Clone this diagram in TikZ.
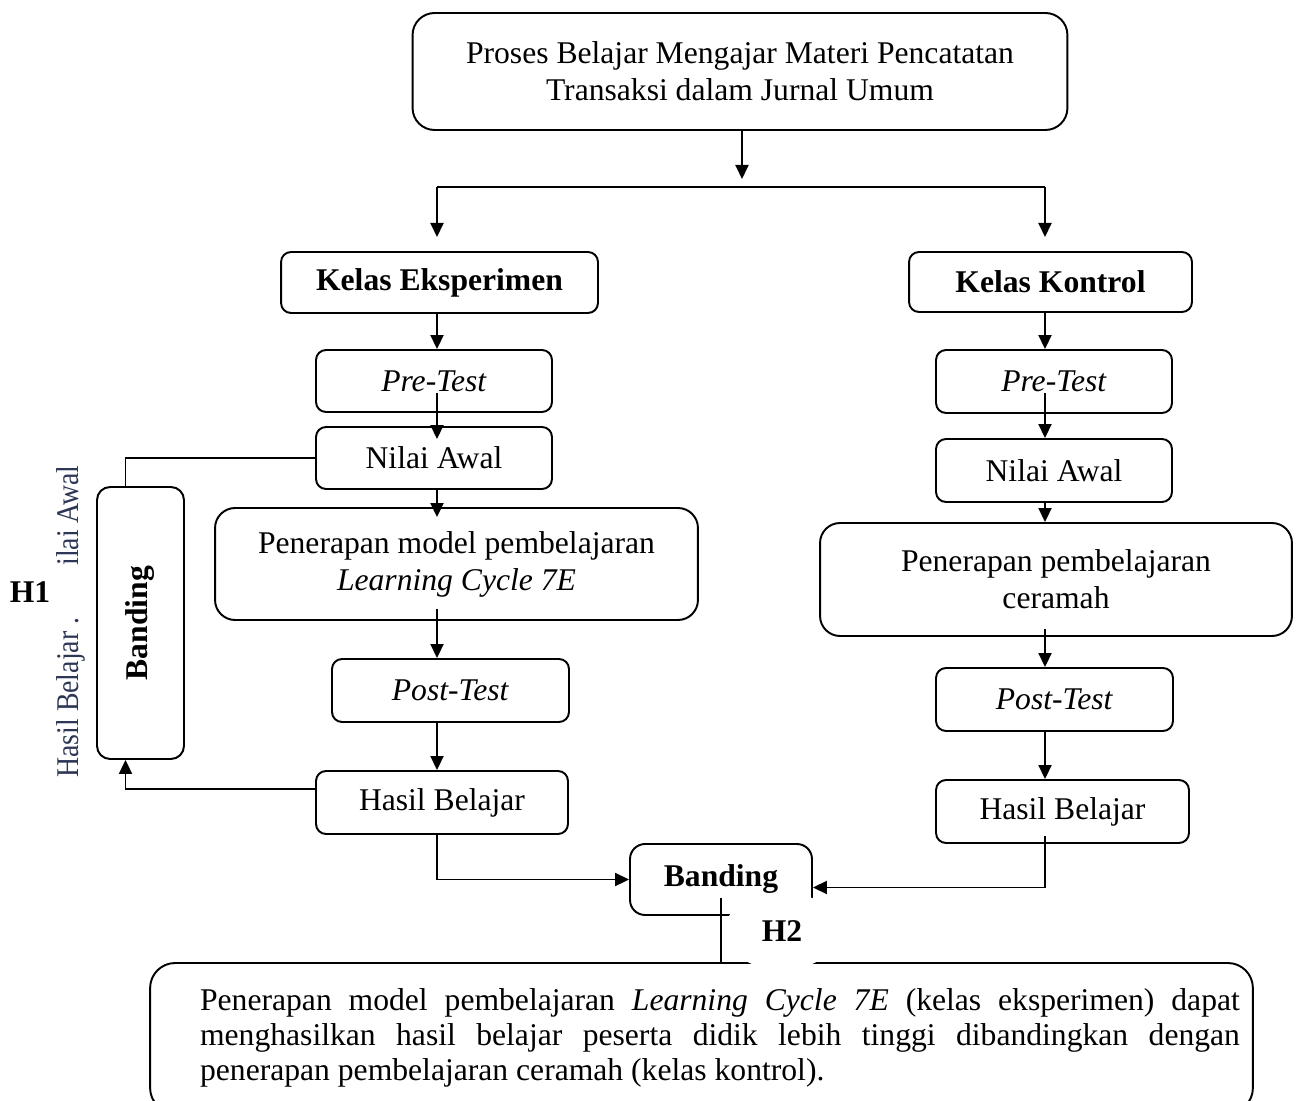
\documentclass[tikz,border=0pt]{standalone}
\usepackage{fontspec}
\setmainfont{Liberation Serif}
\usetikzlibrary{arrows.meta,shapes.geometric}
\definecolor{fadedtext}{RGB}{45,55,85}
\tikzset{
  box/.style={draw, line width=1.1pt, rounded corners=0.2cm, align=center, inner sep=2pt},
  arr/.style={-{Triangle[length=0.28cm,width=0.26cm]}, line width=1.1pt},
  line/.style={line width=1.1pt}
}
\begin{document}
\begin{tikzpicture}[x=0.02cm, y=-0.02cm, font=\fontsize{18}{21}\selectfont]
        \useasboundingbox (0,0) rectangle (1299,1101);
        % top and the two classes
        \node[box, rounded corners=0.44cm, minimum width=13.1cm, minimum height=2.34cm] (top) at (740,71.5) {Proses Belajar Mengajar Materi Pencatatan\\Transaksi dalam Jurnal Umum};
        \node[box, minimum width=6.34cm, minimum height=1.22cm, font=\fontsize{18}{21}\selectfont\bfseries] (eksp) at (439.5,282.5) {Kelas Eksperimen};
        \node[box, minimum width=5.66cm, minimum height=1.2cm, font=\fontsize{18}{21}\selectfont\bfseries] (kont) at (1050.5,282) {Kelas Kontrol};

        % experiment column
        \node[box, minimum width=4.72cm, minimum height=1.24cm] (preL) at (434,381) {\textit{Pre-Test}};
        \node[box, minimum width=4.72cm, minimum height=1.24cm] (nilaiL) at (434,458) {Nilai Awal};
        \node[box, rounded corners=0.4cm, minimum width=9.66cm, minimum height=2.24cm] (terapL) at (456.5,564) {Penerapan model pembelajaran\\\textit{Learning Cycle 7E}};
        \node[box, minimum width=4.74cm, minimum height=1.26cm] (postL) at (450.5,690.5) {\textit{Post-Test}};
        \node[box, minimum width=5.04cm, minimum height=1.26cm] (hasilL) at (442,802.5) {Hasil Belajar};

        % control column
        \node[box, minimum width=4.72cm, minimum height=1.26cm] (preR) at (1054,381.5) {\textit{Pre-Test}};
        \node[box, minimum width=4.72cm, minimum height=1.26cm] (nilaiR) at (1054,470.5) {Nilai Awal};
        \node[box, rounded corners=0.4cm, minimum width=9.44cm, minimum height=2.26cm] (terapR) at (1056,579.5) {Penerapan pembelajaran\\ceramah};
        \node[box, minimum width=4.74cm, minimum height=1.26cm] (postR) at (1054.5,699.5) {\textit{Post-Test}};
        \node[box, minimum width=5.06cm, minimum height=1.26cm] (hasilR) at (1062.5,811.5) {Hasil Belajar};

        % comparisons
        \node[box, rounded corners=0.3cm, minimum width=3.64cm, minimum height=1.42cm, font=\fontsize{18}{21}\selectfont\bfseries] (banding) at (721,879.5) {Banding};
        \node[box, rounded corners=0.26cm, minimum width=1.74cm, minimum height=5.44cm, font=\fontsize{18}{21}\selectfont\bfseries] (bandL) at (140.5,623) {\rotatebox{90}{Banding}};
        \node[font=\fontsize{18}{21}\selectfont\bfseries] (hone) at (30,592) {H1};
        \node[rotate=90, anchor=base west, inner sep=0pt, text=fadedtext] (hasiltxt) at (78,778) {\scalebox{0.88}[1]{Hasil Belajar .}};
        \node[rotate=90, anchor=base east, inner sep=0pt, text=fadedtext] (nilaitxt) at (78,465) {\scalebox{0.88}[1]{ilai Awal}};
        \node[box, rounded corners=0.5cm, minimum width=22.06cm, minimum height=3cm, inner sep=0pt] (kesim) at (701.5,1038) {\hspace*{0.74cm}\parbox{20.8cm}{\fontsize{18}{20}\selectfont\hyphenpenalty=10000
          Penerapan model pembelajaran \textit{Learning Cycle 7E} (kelas eksperimen) dapat\linebreak
          menghasilkan hasil belajar peserta didik lebih tinggi dibandingkan dengan\linebreak
          penerapan pembelajaran ceramah (kelas kontrol).}};

        \coordinate (colL) at (437,0);
        \coordinate (colR) at (1045,0);
        \coordinate (fork) at (742,187);
        \coordinate (forktip) at (742,179);
        \coordinate (tipL) at (437,237);
        \coordinate (tipR) at (1045,237);

        \draw[arr] (top.south -| forktip) -- (forktip);
        \draw[line] (fork -| tipL) -- (fork -| tipR);
        \draw[arr] (fork -| tipL) -- (tipL);
        \draw[arr] (fork -| tipR) -- (tipR);

        \draw[arr] (eksp.south -| colL) -- (preL.north -| colL);
        \draw[arr] ([yshift=-0.24cm]preL.center -| colL) -- ([yshift=-0.26cm]nilaiL.north -| colL);
        \draw[arr] (nilaiL.south -| colL) -- ([yshift=-0.2cm]terapL.north -| colL);
        \draw[arr] ([yshift=0.24cm]terapL.south -| colL) -- (postL.north -| colL);
        \draw[arr] (postL.south -| colL) -- (hasilL.north -| colL);
        \draw[arr] (hasilL.south -| colL) |- (banding.west);

        \draw[arr] (kont.south -| colR) -- (preR.north -| colR);
        \draw[arr] ([yshift=-0.24cm]preR.center -| colR) -- (nilaiR.north -| colR);
        \draw[arr] (nilaiR.south -| colR) -- (terapR.north -| colR);
        \draw[arr] ([yshift=0.16cm]terapR.south -| colR) -- (postR.north -| colR);
        \draw[arr] (postR.south -| colR) -- (hasilR.north -| colR);
        \draw[arr] ([yshift=0.16cm]hasilR.south -| colR) |- ([yshift=-0.16cm]banding.east);

        \draw[line] (nilaiL.west) -| ([xshift=-0.3cm]bandL.north);
        \draw[arr] ([yshift=0.27cm]hasilL.west) -| ([xshift=-0.3cm]bandL.south);

        \draw[line] ([yshift=0.36cm]banding.south) -- (banding.south |- kesim.north);
        \node[ellipse, fill=white, minimum width=2.3cm, minimum height=1.55cm, font=\fontsize{18}{21}\selectfont\bfseries] (htwo) at (782,931) {H2};
\end{tikzpicture}
\end{document}
